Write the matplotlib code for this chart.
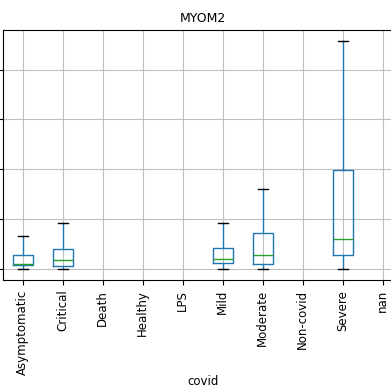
import matplotlib
matplotlib.use("Agg")
import matplotlib.pyplot as plt

# covid groups on the x axis (empty groups have no box)
categories = ["Asymptomatic", "Critical", "Death", "Healthy", "LPS",
              "Mild", "Moderate", "Non-covid", "Severe", "nan"]

# box statistics for the groups that have data
box_groups = ["Asymptomatic", "Critical", "Mild", "Moderate", "Severe"]
whisker_low = [0.0, 0.0, 0.0, 0.0, 0.0]
q1 = [0.07, 0.06, 0.11, 0.09, 0.28]
median = [0.09, 0.17, 0.20, 0.28, 0.59]
q3 = [0.28, 0.39, 0.42, 0.71, 1.99]
whisker_high = [0.65, 0.91, 0.91, 1.60, 4.57]

stats = []
for i, name in enumerate(box_groups):
    stats.append({
        "label": name,
        "whislo": whisker_low[i],
        "q1": q1[i],
        "med": median[i],
        "q3": q3[i],
        "whishi": whisker_high[i],
        "fliers": [],
    })
positions = [categories.index(name) + 1 for name in box_groups]

fig = plt.figure(figsize=(3.91, 3.88), dpi=100)
# axes deliberately reaches past the figure edges (cropped screenshot)
ax = fig.add_axes([2.7 / 391, 1 - 280 / 388, 400 / 391, 250 / 388])

ax.bxp(stats, positions=positions, widths=0.5, showfliers=False,
       boxprops=dict(color="#1f77b4"),
       whiskerprops=dict(color="#1f77b4"),
       capprops=dict(color="black"),
       medianprops=dict(color="#2ca02c"))

ax.set_xticks(range(1, len(categories) + 1))
ax.set_xticklabels(categories, rotation=90, fontsize=8.5)
ax.set_xlim(0.5, len(categories) + 0.5)
# y tick labels sit outside the cropped picture, keep only the marks
ax.set_yticks([0, 1, 2, 3, 4])
ax.set_yticklabels([])
ax.grid(True, color="#c0c0c0", linewidth=0.8)
ax.set_axisbelow(True)
ax.set_title("MYOM2", fontsize=9)
ax.set_xlabel("covid", fontsize=8.5, labelpad=0)

fig.savefig("out.png", dpi=100)
